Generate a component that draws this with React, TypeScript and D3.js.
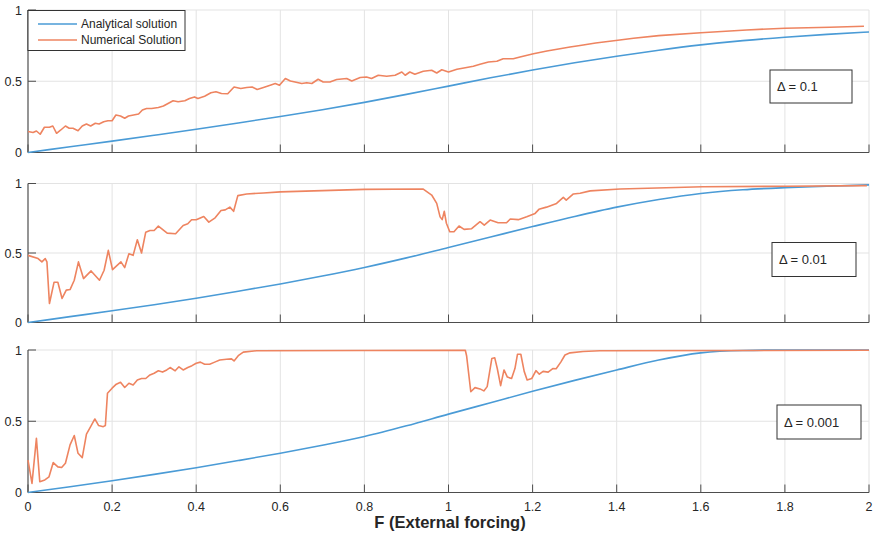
import React from "react";
import * as d3 from "d3";

// ---------- data ----------
const xTicks = [0, 0.2, 0.4, 0.6, 0.8, 1, 1.2, 1.4, 1.6, 1.8, 2];
const xTickLabels = ["0", "0.2", "0.4", "0.6", "0.8", "1", "1.2", "1.4", "1.6", "1.8", "2"];
const yTicks = [0, 0.5, 1];
const yTickLabels = ["0", "0.5", "1"];
const seriesNames = ["Analytical solution", "Numerical Solution"];
const panelLabels = ["Δ = 0.1", "Δ = 0.01", "Δ = 0.001"];

const anaX = [0, 0.1, 0.2, 0.3, 0.4, 0.5, 0.6, 0.7, 0.8, 0.9, 1.0, 1.1, 1.2, 1.3, 1.4, 1.5, 1.6, 1.7, 1.8, 1.9, 2.0];
const ana1 = [0, 0.04, 0.08, 0.121, 0.163, 0.207, 0.253, 0.3, 0.352, 0.408, 0.466, 0.524, 0.579, 0.63, 0.676, 0.718, 0.755, 0.785, 0.809, 0.829, 0.846];
const ana2 = [0, 0.042, 0.084, 0.128, 0.175, 0.225, 0.277, 0.334, 0.396, 0.465, 0.54, 0.615, 0.69, 0.763, 0.83, 0.885, 0.928, 0.955, 0.97, 0.98, 0.99];
const ana3 = [0, 0.04, 0.082, 0.127, 0.174, 0.224, 0.276, 0.332, 0.393, 0.468, 0.55, 0.63, 0.71, 0.787, 0.86, 0.93, 0.98, 0.997, 1.0, 1.0, 1.0];

const num1X = [0, 0.012, 0.02, 0.029, 0.039, 0.051, 0.059, 0.068, 0.078, 0.089, 0.098, 0.107, 0.119, 0.129, 0.139, 0.149, 0.16, 0.169, 0.18, 0.19, 0.2, 0.209, 0.22, 0.23, 0.239, 0.251, 0.263, 0.272, 0.282, 0.294, 0.31, 0.322, 0.333, 0.345, 0.357, 0.373, 0.384, 0.396, 0.404, 0.42, 0.435, 0.447, 0.46, 0.475, 0.49, 0.506, 0.52, 0.533, 0.545, 0.56, 0.576, 0.588, 0.598, 0.612, 0.624, 0.635, 0.651, 0.663, 0.675, 0.69, 0.702, 0.718, 0.734, 0.758, 0.77, 0.79, 0.805, 0.817, 0.833, 0.853, 0.873, 0.889, 0.897, 0.908, 0.92, 0.94, 0.96, 0.972, 0.984, 1.0, 1.02, 1.04, 1.059, 1.075, 1.095, 1.115, 1.13, 1.154, 1.17, 1.202, 1.234, 1.265, 1.289, 1.313, 1.35, 1.398, 1.44, 1.5, 1.6, 1.709, 1.8, 1.907, 1.988];
const num1Y = [0.147, 0.14, 0.151, 0.128, 0.177, 0.177, 0.186, 0.135, 0.158, 0.186, 0.17, 0.17, 0.153, 0.186, 0.2, 0.186, 0.205, 0.2, 0.216, 0.223, 0.223, 0.263, 0.256, 0.24, 0.256, 0.263, 0.27, 0.298, 0.309, 0.309, 0.316, 0.326, 0.344, 0.363, 0.356, 0.363, 0.379, 0.39, 0.379, 0.395, 0.419, 0.426, 0.414, 0.412, 0.46, 0.449, 0.456, 0.46, 0.442, 0.456, 0.472, 0.484, 0.472, 0.519, 0.502, 0.495, 0.484, 0.49, 0.484, 0.514, 0.495, 0.495, 0.512, 0.519, 0.502, 0.526, 0.53, 0.519, 0.542, 0.535, 0.542, 0.565, 0.542, 0.565, 0.549, 0.57, 0.577, 0.558, 0.581, 0.565, 0.584, 0.595, 0.605, 0.619, 0.635, 0.64, 0.658, 0.658, 0.67, 0.693, 0.712, 0.728, 0.74, 0.751, 0.768, 0.786, 0.802, 0.82, 0.84, 0.86, 0.872, 0.879, 0.886];

const num2X = [0, 0.024, 0.033, 0.041, 0.045, 0.051, 0.062, 0.071, 0.081, 0.091, 0.1, 0.11, 0.12, 0.132, 0.15, 0.17, 0.181, 0.191, 0.201, 0.221, 0.23, 0.24, 0.25, 0.26, 0.27, 0.28, 0.29, 0.3, 0.31, 0.331, 0.351, 0.369, 0.38, 0.389, 0.4, 0.418, 0.43, 0.445, 0.459, 0.469, 0.48, 0.489, 0.499, 0.52, 0.56, 0.6, 0.8, 0.94, 0.96, 0.972, 0.98, 0.985, 0.99, 0.995, 1.003, 1.013, 1.025, 1.037, 1.055, 1.075, 1.085, 1.099, 1.118, 1.138, 1.147, 1.166, 1.186, 1.206, 1.215, 1.233, 1.257, 1.273, 1.28, 1.297, 1.313, 1.337, 1.408, 1.605, 1.804, 1.995];
const num2Y = [0.483, 0.46, 0.436, 0.46, 0.436, 0.137, 0.29, 0.29, 0.173, 0.233, 0.237, 0.304, 0.436, 0.316, 0.371, 0.304, 0.376, 0.519, 0.38, 0.436, 0.395, 0.495, 0.483, 0.595, 0.5, 0.65, 0.662, 0.662, 0.693, 0.643, 0.638, 0.698, 0.71, 0.739, 0.739, 0.763, 0.722, 0.753, 0.806, 0.81, 0.83, 0.8, 0.913, 0.925, 0.932, 0.94, 0.958, 0.96, 0.917, 0.857, 0.76, 0.74, 0.8, 0.714, 0.653, 0.653, 0.694, 0.67, 0.675, 0.725, 0.7, 0.737, 0.718, 0.718, 0.745, 0.74, 0.761, 0.785, 0.814, 0.83, 0.857, 0.9, 0.88, 0.925, 0.93, 0.947, 0.96, 0.977, 0.98, 0.985];

const num3X = [0, 0.0095, 0.02, 0.028, 0.04, 0.05, 0.06, 0.071, 0.08, 0.089, 0.1, 0.11, 0.119, 0.129, 0.139, 0.149, 0.159, 0.168, 0.179, 0.184, 0.189, 0.2, 0.21, 0.22, 0.23, 0.24, 0.25, 0.26, 0.27, 0.28, 0.29, 0.3, 0.31, 0.32, 0.33, 0.338, 0.35, 0.359, 0.369, 0.38, 0.39, 0.4, 0.41, 0.42, 0.432, 0.444, 0.456, 0.472, 0.484, 0.49, 0.5, 0.512, 0.544, 1.04, 1.043, 1.053, 1.063, 1.075, 1.084, 1.092, 1.103, 1.11, 1.116, 1.124, 1.132, 1.14, 1.15, 1.158, 1.164, 1.172, 1.18, 1.187, 1.198, 1.208, 1.216, 1.225, 1.237, 1.248, 1.256, 1.267, 1.277, 1.289, 1.32, 1.36, 2.0];
const num3Y = [0.228, 0.064, 0.38, 0.076, 0.088, 0.11, 0.21, 0.18, 0.175, 0.205, 0.334, 0.4, 0.275, 0.245, 0.41, 0.462, 0.516, 0.47, 0.462, 0.47, 0.697, 0.732, 0.76, 0.774, 0.737, 0.767, 0.755, 0.79, 0.8, 0.8, 0.825, 0.837, 0.854, 0.845, 0.86, 0.877, 0.854, 0.882, 0.86, 0.877, 0.89, 0.907, 0.915, 0.9, 0.9, 0.915, 0.93, 0.935, 0.938, 0.923, 0.96, 0.985, 0.995, 0.998, 0.96, 0.707, 0.736, 0.727, 0.713, 0.743, 0.94, 0.945, 0.87, 0.75, 0.86, 0.81, 0.8, 0.87, 0.97, 0.97, 0.85, 0.79, 0.8, 0.855, 0.83, 0.85, 0.845, 0.87, 0.868, 0.915, 0.965, 0.98, 0.99, 0.995, 0.998];

const panelsAna = [ana1, ana2, ana3];
const panelsNumX = [num1X, num2X, num3X];
const panelsNumY = [num1Y, num2Y, num3Y];

// ---------- layout ----------
const W = 874;
const H = 542;
const X0 = 28;
const X1 = 869;
const panelBox = [
  { top: 10, bottom: 152.5, box: [770, 70, 82, 33] },
  { top: 183.5, bottom: 322.5, box: [772, 242.5, 84, 34] },
  { top: 350, bottom: 492.5, box: [777, 405, 84, 34] },
];
const BLUE = "#4a9bd6";
const ORANGE = "#ee8460";
const FONT = "'Liberation Sans', Arial, Helvetica, sans-serif";

export default function App() {
  const x = d3.scaleLinear().domain([0, 2]).range([X0, X1]);
  return (
    <svg width={W} height={H} style={{ position: "absolute", left: 0, top: 0, background: "#fff" }} fontFamily={FONT}>
      <rect x={0} y={0} width={W} height={H} fill="#fff" />
      {panelBox.map((p, pi) => {
        const y = d3.scaleLinear().domain([0, 1]).range([p.bottom, p.top]);
        const anaLine = d3
          .line<[number, number]>()
          .x((d) => x(d[0]))
          .y((d) => y(d[1]))
          .curve(d3.curveMonotoneX)(anaX.map((v, i) => [v, panelsAna[pi][i]]) as [number, number][]);
        const numLine = d3
          .line<[number, number]>()
          .x((d) => x(d[0]))
          .y((d) => y(d[1]))(panelsNumX[pi].map((v, i) => [v, panelsNumY[pi][i]]) as [number, number][]);
        const [bx, by, bw, bh] = p.box;
        return (
          <g key={pi}>
            {xTicks.slice(1).map((t) => (
              <line key={"gx" + t} x1={x(t)} x2={x(t)} y1={p.top} y2={p.bottom} stroke="#e3e3e3" strokeWidth={1} />
            ))}
            {yTicks.slice(1).map((t) => (
              <line key={"gy" + t} x1={X0} x2={X1} y1={y(t)} y2={y(t)} stroke="#e3e3e3" strokeWidth={1} />
            ))}
            <line x1={X0} x2={X0} y1={p.top} y2={p.bottom} stroke="#4d4d4d" strokeWidth={1.2} />
            <line x1={X0} x2={X1} y1={p.bottom} y2={p.bottom} stroke="#4d4d4d" strokeWidth={1.2} />
            {xTicks.map((t) => (
              <line key={"tx" + t} x1={x(t)} x2={x(t)} y1={p.bottom} y2={p.bottom - 8} stroke="#4d4d4d" strokeWidth={1} />
            ))}
            {yTicks.map((t) => (
              <line key={"ty" + t} x1={X0} x2={X0 + 8} y1={y(t)} y2={y(t)} stroke="#4d4d4d" strokeWidth={1} />
            ))}
            {yTicks.map((t, i) => (
              <text key={"ly" + t} x={22} y={y(t)} dy="0.36em" textAnchor="end" fontSize={12.5} fill="#262626">
                {yTickLabels[i]}
              </text>
            ))}
            {pi === 2 &&
              xTicks.map((t, i) => (
                <text key={"lx" + t} x={x(t)} y={p.bottom + 18} textAnchor="middle" fontSize={12.5} fill="#262626">
                  {xTickLabels[i]}
                </text>
              ))}
            <path d={anaLine || ""} fill="none" stroke={BLUE} strokeWidth={1.6} />
            <path d={numLine || ""} fill="none" stroke={ORANGE} strokeWidth={1.6} strokeLinejoin="round" />
            <rect x={bx} y={by} width={bw} height={bh} fill="#fff" stroke="#333" strokeWidth={1} />
            <text x={bx + 7} y={by + bh / 2} dy="0.36em" fontSize={13} fill="#262626">
              {panelLabels[pi]}
            </text>
          </g>
        );
      })}
      <rect x={28} y={10.5} width={157} height={40} fill="#fff" stroke="#333" strokeWidth={1} />
      <line x1={38} x2={77} y1={24} y2={24} stroke={BLUE} strokeWidth={1.6} />
      <line x1={38} x2={77} y1={40} y2={40} stroke={ORANGE} strokeWidth={1.6} />
      <text x={81} y={24} dy="0.36em" fontSize={12} fill="#262626">
        {seriesNames[0]}
      </text>
      <text x={81} y={40} dy="0.36em" fontSize={12} fill="#262626">
        {seriesNames[1]}
      </text>
      <text x={450} y={528} textAnchor="middle" fontSize={16.5} fontWeight="bold" fill="#262626">
        F (External forcing)
      </text>
    </svg>
  );
}
